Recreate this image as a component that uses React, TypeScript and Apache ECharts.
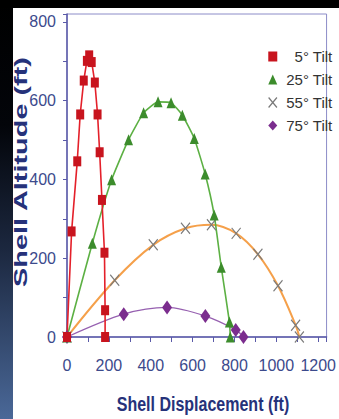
import React, { useEffect, useRef } from "react";
import * as echarts from "echarts";

const seriesNames = ["5° Tilt", "25° Tilt", "55° Tilt", "75° Tilt"];

const tilt5X = [0, 22, 49, 63, 80, 95, 106, 118, 133, 146, 156, 167, 179, 182, 182];
const tilt5Y = [0, 268, 446, 565, 651, 701, 715, 698, 646, 565, 469, 348, 214, 68, 0];

const tilt25X = [0, 121, 213, 294, 366, 435, 497, 551, 608, 660, 703, 737, 776, 780];
const tilt25Y = [0, 238, 399, 501, 569, 597, 595, 563, 504, 414, 310, 177, 38, 0];

const tilt55X = [0, 228, 412, 566, 690, 808, 912, 1008, 1092, 1110];
const tilt55Y = [0, 144, 234, 276, 285, 263, 210, 130, 30, 0];

const tilt75X = [0, 271, 478, 661, 806, 843];
const tilt75Y = [0, 58, 75, 53, 18, 0];

const xTickLabels = [0, 200, 400, 600, 800, 1000, 1200];
const yTickLabels = [0, 200, 400, 600, 800];

const xTitle = "Shell Displacement (ft)";
const yTitle = "Shell Altitude (ft)";

const zip = (xs: number[], ys: number[]) => xs.map((x, i) => [x, ys[i]]);

const X_PATH = "path://M0,0L10,12M10,0L0,12";
const FONT = "'Liberation Sans Narrow', 'Arial Narrow', 'Liberation Sans', Arial, sans-serif";
const AXIS_TEXT = "#3c4a8c";
const AXIS_LINE = "#5a5aa8";
const TITLE = "#26327a";

export default function App() {
  const ref = useRef<HTMLDivElement>(null);
  useEffect(() => {
    if (!ref.current) return;
    const chart = echarts.init(ref.current, undefined, { renderer: "svg" });
    chart.setOption({
      animation: false,
      backgroundColor: "#ffffff",
      graphic: [
        {
          type: "rect",
          shape: { x: 0, y: 0, width: 13, height: 419 },
          style: {
            fill: new echarts.graphic.LinearGradient(0, 0, 0, 1, [
              { offset: 0, color: "#000000" },
              { offset: 0.3, color: "#03050a" },
              { offset: 0.6, color: "#1c2840" },
              { offset: 1, color: "#4a6898" },
            ]),
          },
          silent: true,
        },
        {
          type: "rect",
          shape: { x: 0, y: 0, width: 339, height: 8 },
          style: { fill: "#000000" },
          silent: true,
        },
        {
          type: "text",
          x: 21,
          y: 172,
          rotation: Math.PI / 2,
          scaleX: 1.52,
          scaleY: 0.95,
          style: {
            text: yTitle,
            fill: TITLE,
            font: "bold 19px 'Liberation Sans', Arial, sans-serif",
            align: "center",
            verticalAlign: "middle",
          },
          silent: true,
        },
        {
          type: "text",
          x: 203,
          y: 404,
          scaleX: 0.8,
          scaleY: 1,
          style: {
            text: xTitle,
            fill: TITLE,
            font: "bold 20px 'Liberation Sans', Arial, sans-serif",
            align: "center",
            verticalAlign: "middle",
          },
          silent: true,
        },
      ],
      grid: {
        left: 67,
        right: 3,
        top: 14,
        bottom: 82,
        show: true,
        borderColor: "#8c8cc8",
        borderWidth: 1,
        backgroundColor: "transparent",
      },
      legend: {
        orient: "vertical",
        left: 263,
        top: 44,
        itemWidth: 9,
        itemHeight: 10,
        itemGap: 8,
        itemTextGap: 4,
        formatter: (name: string) => `{r|${name}}`,
        textStyle: {
          rich: {
            r: {
              width: 50,
              align: "right",
              fontSize: 15,
              lineHeight: 12,
              color: "#333333",
              fontFamily: "'Liberation Sans', Arial, sans-serif",
            },
          },
        },
        data: [
          { name: seriesNames[0], icon: "rect" },
          { name: seriesNames[1], icon: "triangle" },
          {
            name: seriesNames[2],
            icon: X_PATH,
            itemStyle: { color: "transparent", borderColor: "#7a7a7a", borderWidth: 1.2 },
          },
          { name: seriesNames[3], icon: "diamond" },
        ],
      },
      xAxis: {
        type: "value",
        min: 0,
        max: 1240,
        interval: 100,
        splitLine: { show: false },
        axisLine: { show: true, lineStyle: { color: AXIS_LINE, width: 1.5 } },
        axisTick: { show: true, length: 5, lineStyle: { color: AXIS_LINE } },
        axisLabel: {
          margin: 20,
          fontSize: 16,
          color: AXIS_TEXT,
          fontFamily: FONT,
          formatter: (v: number) => (xTickLabels.includes(v) ? String(v) : ""),
        },
      },
      yAxis: {
        type: "value",
        min: 0,
        max: 820,
        interval: 100,
        splitLine: { show: false },
        axisLine: { show: true, lineStyle: { color: AXIS_LINE, width: 1.5 } },
        axisTick: { show: true, length: 4, lineStyle: { color: AXIS_LINE } },
        axisLabel: {
          margin: 11,
          fontSize: 16,
          color: AXIS_TEXT,
          fontFamily: FONT,
          formatter: (v: number) => (yTickLabels.includes(v) ? String(v) : ""),
        },
      },
      series: [
        {
          name: seriesNames[3],
          type: "line",
          clip: false,
          smooth: 0.3,
          data: zip(tilt75X, tilt75Y),
          symbol: "diamond",
          symbolSize: [10, 14],
          itemStyle: { color: "#7b2d8e" },
          lineStyle: { color: "#9660b0", width: 1.3 },
        },
        {
          name: seriesNames[2],
          type: "line",
          clip: false,
          smooth: 0.35,
          data: zip(tilt55X, tilt55Y),
          symbol: X_PATH,
          symbolSize: [9, 11],
          itemStyle: { color: "transparent", borderColor: "#7a7a7a", borderWidth: 1.2 },
          lineStyle: { color: "#f5a04a", width: 2 },
        },
        {
          name: seriesNames[1],
          type: "line",
          clip: false,
          smooth: 0.15,
          data: zip(tilt25X, tilt25Y),
          symbol: "triangle",
          symbolSize: [9, 11],
          itemStyle: { color: "#3c8c2c" },
          lineStyle: { color: "#5cb043", width: 1.6 },
        },
        {
          name: seriesNames[0],
          type: "line",
          clip: false,
          smooth: false,
          data: zip(tilt5X, tilt5Y),
          symbol: "rect",
          symbolSize: [8, 10],
          itemStyle: { color: "#c8141e" },
          lineStyle: { color: "#e4202a", width: 1.6 },
        },
      ],
    });
    return () => chart.dispose();
  }, []);
  return (
    <div
      ref={ref}
      style={{ position: "fixed", left: 0, top: 0, width: 339, height: 419 }}
    />
  );
}
